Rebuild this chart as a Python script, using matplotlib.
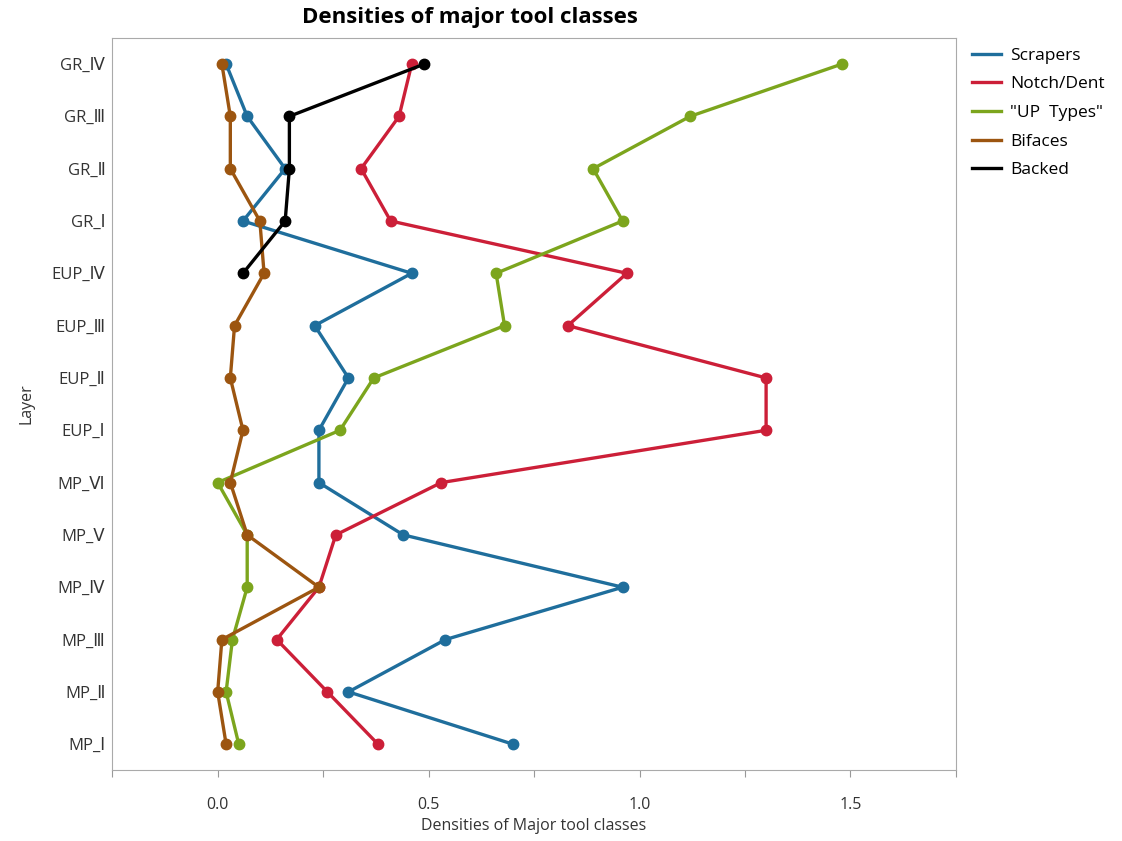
import matplotlib
matplotlib.use('Agg')
import matplotlib.pyplot as plt
from matplotlib.ticker import MultipleLocator, FuncFormatter

plt.rcParams['font.family'] = ['Open Sans', 'DejaVu Sans']

layers = ['GR_Ⅳ', 'GR_Ⅲ', 'GR_Ⅱ', 'GR_Ⅰ', 'EUP_Ⅳ', 'EUP_Ⅲ', 'EUP_Ⅱ', 'EUP_Ⅰ',
          'MP_Ⅵ', 'MP_Ⅴ', 'MP_Ⅳ', 'MP_Ⅲ', 'MP_Ⅱ', 'MP_Ⅰ']

scrapers = [0.02, 0.07, 0.16, 0.06, 0.46, 0.23, 0.31, 0.24, 0.24, 0.44, 0.96, 0.54, 0.31, 0.70]
notch = [0.46, 0.43, 0.34, 0.41, 0.97, 0.83, 1.30, 1.30, 0.53, 0.28, 0.24, 0.14, 0.26, 0.38]
up_types = [1.48, 1.12, 0.89, 0.96, 0.66, 0.68, 0.37, 0.29, 0.00, 0.07, 0.07, 0.035, 0.02, 0.05]
bifaces = [0.01, 0.03, 0.03, 0.10, 0.11, 0.04, 0.03, 0.06, 0.03, 0.07, 0.24, 0.01, 0.00, 0.02]
backed = [0.49, 0.17, 0.17, 0.16, 0.06]

series = [
    ('Scrapers', scrapers, '#1f6e9c'),
    ('Notch/Dent', notch, '#cc1f38'),
    ('"UP  Types"', up_types, '#7ca51d'),
    ('Bifaces', bifaces, '#9c5510'),
    ('Backed', backed, '#000000'),
]

fig = plt.figure(figsize=(11.22, 8.41), dpi=100)
ax = fig.add_axes([0.100, 0.084, 0.752, 0.871])

ypos = list(range(len(layers)))
for name, vals, col in series:
    ax.plot(vals, ypos[:len(vals)], color=col, lw=2.4, marker='o', ms=7.5, label=name)

ax.set_yticks(ypos)
ax.set_yticklabels(layers, fontsize=12, color='#333333')
ax.set_ylim(13.5, -0.5)
ax.set_xlim(-0.25, 1.75)
ax.xaxis.set_major_locator(MultipleLocator(0.25))
ax.xaxis.set_major_formatter(FuncFormatter(lambda v, p: '%.1f' % v if abs(v * 2 - round(v * 2)) < 1e-6 and v >= 0 and v < 1.7 else ''))
ax.tick_params(axis='x', labelsize=11.5, colors='#333333', length=5, color='#999999', pad=14)
ax.tick_params(axis='y', length=0, pad=5)
for s in ax.spines.values():
    s.set_color('#aaaaaa')

fig.text(470 / 1122, 1 - 18 / 841, 'Densities of major tool classes', fontsize=16, fontweight='bold',
         ha='center', va='center')
ax.set_xlabel('Densities of Major tool classes', fontsize=11.5, color='#333333', labelpad=4)
ax.set_ylabel('Layer', fontsize=11.5, color='#333333', labelpad=12)

ax.legend(loc='upper left', bbox_to_anchor=(1.0, 1.008), frameon=False, fontsize=12.5,
          handlelength=1.7, handletextpad=0.5, labelspacing=0.72)
leg = ax.get_legend()
for h in leg.legend_handles:
    h.set_marker('')

fig.savefig('out.png', dpi=100)
